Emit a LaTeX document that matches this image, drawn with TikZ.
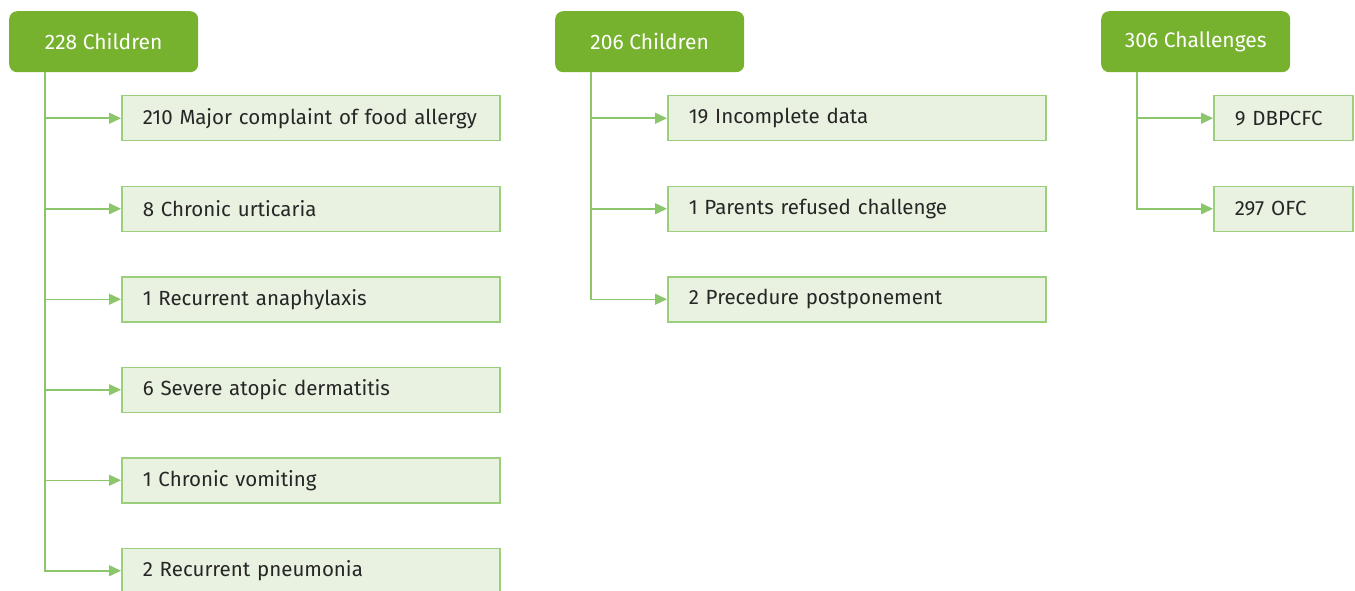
\documentclass[tikz,border=0pt]{standalone}
\usepackage{fontspec}
\setmainfont{Fira Sans}
\usetikzlibrary{arrows.meta,positioning}

\definecolor{topgreen}{HTML}{76B22E}
\definecolor{boxfill}{HTML}{E9F2E0}
\definecolor{boxline}{HTML}{9BCF7D}
\definecolor{linkgreen}{HTML}{8CC66B}

\tikzset{
  topbox/.style={rectangle, rounded corners=8pt, fill=topgreen, text=white,
    minimum width=189pt, minimum height=61pt, inner sep=0pt, anchor=north west,
    font=\fontsize{21}{24}\selectfont},
  itembox/.style={rectangle, fill=boxfill, draw=boxline, line width=1.5pt,
    text=black!85, anchor=north west, minimum height=45pt, inner xsep=21pt,
    inner ysep=0pt, text width=336pt, align=left,
    font=\fontsize{20.5}{24}\selectfont},
  shortbox/.style={itembox, text width=97pt},
  link/.style={draw=linkgreen, line width=1.5pt,
    -{Triangle[length=12pt,width=11pt]}}
}

\begin{document}
\begin{tikzpicture}[x=1pt,y=-1pt]
  \useasboundingbox (0,0) rectangle (1355,591);

  % first step
  \node[topbox] (top1) at (9,11) {228 Children};
  \node[itembox] (food) at (121,95) {210 Major complaint of food allergy};
  \node[itembox] (urtic) at (121,185.5) {8 Chronic urticaria};
  \node[itembox] (anaph) at (121,276) {1 Recurrent anaphylaxis};
  \node[itembox] (derm) at (121,366.5) {6 Severe atopic dermatitis};
  \node[itembox] (vomit) at (121,457) {1 Chronic vomiting};
  \node[itembox] (pneu) at (121,547.5) {2 Recurrent pneumonia};

  % second step
  \node[topbox] (top2) at (555,11) {206 Children};
  \node[itembox] (incomp) at (667,95) {19 Incomplete data};
  \node[itembox] (refuse) at (667,185.5) {1 Parents refused challenge};
  \node[itembox] (postp) at (667,276) {2 Precedure postponement};

  % third step
  \node[topbox] (top3) at (1101,11) {306 Challenges};
  \node[shortbox] (dbpcfc) at (1213,95) {9 DBPCFC};
  \node[shortbox] (ofc) at (1213,185.5) {297 OFC};

  \coordinate (s1) at ([xshift=36pt]top1.south west);
  \coordinate (s2) at ([xshift=36pt]top2.south west);
  \coordinate (s3) at ([xshift=36pt]top3.south west);

  \begin{scope}[every path/.style={link}]
    \path (s1) |- (food.west);
    \path (s1) |- (urtic.west);
    \path (s1) |- (anaph.west);
    \path (s1) |- (derm.west);
    \path (s1) |- (vomit.west);
    \path (s1) |- (pneu.west);
    \path (s2) |- (incomp.west);
    \path (s2) |- (refuse.west);
    \path (s2) |- (postp.west);
    \path (s3) |- (dbpcfc.west);
    \path (s3) |- (ofc.west);
  \end{scope}
\end{tikzpicture}
\end{document}
